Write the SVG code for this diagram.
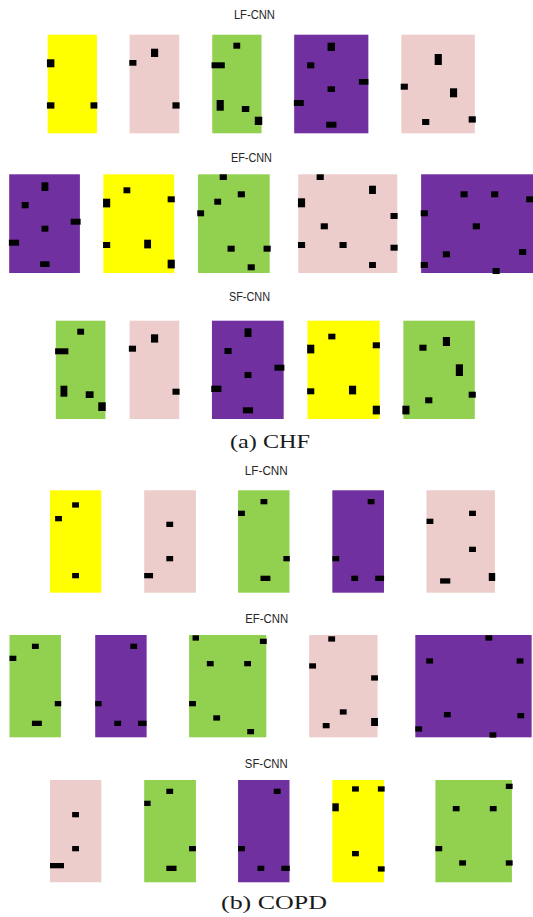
<svg xmlns="http://www.w3.org/2000/svg" width="533" height="917" viewBox="0 0 533 917">
<style>
.y{fill:#FFFF00}.p{fill:#EDCDCB}.g{fill:#92D050}.v{fill:#7030A0}
.d rect{fill:#000}
.t{font-family:"Liberation Sans",Arial,sans-serif;font-size:12px;fill:#262626;text-anchor:middle}
.c{font-family:"Liberation Serif","Times New Roman",serif;font-size:18px;fill:#1a1a1a;text-anchor:middle}
</style>
<rect width="533" height="917" fill="#fff"/>
<text class="t" x="254.4" y="19" textLength="41" lengthAdjust="spacingAndGlyphs">LF-CNN</text>
<text class="t" x="251.4" y="161.5" textLength="41" lengthAdjust="spacingAndGlyphs">EF-CNN</text>
<text class="t" x="249.5" y="301" textLength="41" lengthAdjust="spacingAndGlyphs">SF-CNN</text>
<text class="c" x="270" y="448" textLength="80" lengthAdjust="spacingAndGlyphs">(a) CHF</text>
<text class="t" x="266.3" y="475" textLength="43" lengthAdjust="spacingAndGlyphs">LF-CNN</text>
<text class="t" x="266.7" y="623.3" textLength="43" lengthAdjust="spacingAndGlyphs">EF-CNN</text>
<text class="t" x="266.3" y="767.7" textLength="43" lengthAdjust="spacingAndGlyphs">SF-CNN</text>
<text class="c" x="274" y="909" textLength="106" lengthAdjust="spacingAndGlyphs">(b) COPD</text>
<g id="panels" transform="scale(1.0204 1)">
<!-- CHF LF-CNN -->
<g id="chf-lf-1"><rect class="y" x="46.7" y="34.7" width="48.3" height="98.6"/><g class="d"><rect x="46" y="59.3" width="7.3" height="8"/><rect x="46" y="102.3" width="7.3" height="6.3"/><rect x="88.7" y="102.3" width="6.7" height="6.3"/></g></g>
<g id="chf-lf-2"><rect class="p" x="127" y="34.7" width="48.7" height="98.6"/><g class="d"><rect x="126.7" y="60" width="7" height="5.7"/><rect x="148" y="48.7" width="7" height="8.3"/><rect x="169" y="102.3" width="7" height="6.3"/></g></g>
<g id="chf-lf-3"><rect class="g" x="208" y="34.7" width="48.3" height="98.6"/><g class="d"><rect x="228.7" y="42.7" width="6.7" height="6"/><rect x="207.3" y="62.3" width="13" height="6"/><rect x="212.3" y="100" width="7" height="10.7"/><rect x="237" y="106" width="7.3" height="6"/><rect x="249.7" y="116.7" width="7.3" height="8.3"/></g></g>
<g id="chf-lf-4"><rect class="v" x="288.3" y="34.7" width="72.7" height="98.6"/><g class="d"><rect x="321" y="42.7" width="7.3" height="8.3"/><rect x="301" y="62.3" width="7" height="6"/><rect x="351.7" y="79" width="9.3" height="5.7"/><rect x="321" y="86.3" width="7.3" height="5.7"/><rect x="288" y="100" width="9.7" height="6"/><rect x="319.7" y="121.7" width="10" height="6"/></g></g>
<g id="chf-lf-5"><rect class="p" x="393.3" y="34.7" width="72" height="98.6"/><g class="d"><rect x="426" y="54" width="7" height="11"/><rect x="392.7" y="83.7" width="7" height="6"/><rect x="441" y="88.3" width="7" height="9"/><rect x="413.7" y="119" width="7" height="6"/><rect x="459.3" y="116.3" width="7" height="6.3"/></g></g>
<!-- CHF EF-CNN -->
<g id="chf-ef-1"><rect class="v" x="9" y="174.3" width="69.3" height="98.7"/><g class="d"><rect x="40.7" y="182.3" width="6.7" height="8.7"/><rect x="21.3" y="202" width="6.7" height="6.3"/><rect x="69.3" y="218.7" width="9.7" height="6"/><rect x="40.7" y="225.7" width="6.7" height="6"/><rect x="8.7" y="239.7" width="10" height="6"/><rect x="39.3" y="261.3" width="9.3" height="5.7"/></g></g>
<g id="chf-ef-2"><rect class="y" x="101.3" y="174.3" width="69.4" height="98.7"/><g class="d"><rect x="121" y="187.3" width="6.7" height="6"/><rect x="101" y="198.7" width="7" height="8.7"/><rect x="164.3" y="196.3" width="7" height="6"/><rect x="101" y="242" width="7" height="6"/><rect x="141.3" y="239.7" width="6.7" height="8.7"/><rect x="164.3" y="259.7" width="7" height="8.7"/></g></g>
<g id="chf-ef-3"><rect class="g" x="194" y="174.3" width="70.3" height="98.7"/><g class="d"><rect x="215.3" y="174.3" width="7" height="5.7"/><rect x="233" y="191.3" width="7" height="6"/><rect x="210" y="198.7" width="6.7" height="6"/><rect x="193.3" y="210.3" width="6.7" height="6"/><rect x="223" y="245.7" width="7" height="6"/><rect x="258.3" y="245.7" width="7" height="6"/><rect x="242.7" y="264.3" width="7" height="6"/></g></g>
<g id="chf-ef-4"><rect class="p" x="292.3" y="174.3" width="97" height="98.7"/><g class="d"><rect x="310.3" y="174.3" width="7" height="5.7"/><rect x="361.7" y="185.7" width="6.7" height="8.3"/><rect x="292" y="198.3" width="7" height="9"/><rect x="382.7" y="213" width="7" height="6"/><rect x="314.3" y="223.3" width="7" height="6"/><rect x="292" y="242" width="7" height="6"/><rect x="332.7" y="242" width="7" height="6"/><rect x="382.7" y="244.7" width="7" height="6"/><rect x="361.7" y="262" width="6.7" height="6"/></g></g>
<g id="chf-ef-5"><rect class="v" x="412.7" y="174.3" width="110.3" height="98.7"/><g class="d"><rect x="451.3" y="191.3" width="7" height="6"/><rect x="481.3" y="191.3" width="7" height="6"/><rect x="515.7" y="196.3" width="7" height="6"/><rect x="412.3" y="210.3" width="7" height="6"/><rect x="463.3" y="223.3" width="7" height="6"/><rect x="434" y="251.3" width="7" height="6"/><rect x="508.7" y="249" width="7" height="6"/><rect x="412.3" y="262" width="7" height="6"/><rect x="482.7" y="268" width="7" height="6"/></g></g>
<!-- CHF SF-CNN -->
<g id="chf-sf-1"><rect class="g" x="54.7" y="320.7" width="48.6" height="98.3"/><g class="d"><rect x="75.7" y="328.7" width="6.7" height="6"/><rect x="54" y="348.3" width="13" height="6"/><rect x="59.3" y="385.7" width="6.7" height="11"/><rect x="84" y="391.3" width="7.7" height="6.7"/><rect x="96.3" y="402.3" width="7.3" height="8.7"/></g></g>
<g id="chf-sf-2"><rect class="p" x="127" y="320.7" width="48.7" height="98.3"/><g class="d"><rect x="126.3" y="345.7" width="7" height="6"/><rect x="148" y="334.3" width="7" height="8.3"/><rect x="169" y="388.7" width="7" height="6"/></g></g>
<g id="chf-sf-3"><rect class="v" x="207.7" y="320.7" width="70.3" height="98.3"/><g class="d"><rect x="239.7" y="328.3" width="6.7" height="8.7"/><rect x="220" y="348" width="7" height="6"/><rect x="269" y="364.7" width="9.7" height="6"/><rect x="239.7" y="372" width="6.7" height="6"/><rect x="207" y="385.7" width="10" height="6.3"/><rect x="238" y="407.3" width="10" height="6"/></g></g>
<g id="chf-sf-4"><rect class="y" x="301.3" y="320.7" width="70.7" height="98.3"/><g class="d"><rect x="321.7" y="333.7" width="7" height="5.7"/><rect x="301" y="344.7" width="7" height="8.7"/><rect x="365.3" y="342.3" width="7" height="6"/><rect x="301" y="388.3" width="7" height="6"/><rect x="342" y="385.7" width="7" height="8.7"/><rect x="365.3" y="405.7" width="7" height="8.7"/></g></g>
<g id="chf-sf-5"><rect class="g" x="395.3" y="320.7" width="70" height="98.3"/><g class="d"><rect x="411" y="344.7" width="7" height="6"/><rect x="434" y="337" width="7" height="9"/><rect x="446.7" y="364.3" width="7" height="11.7"/><rect x="459.3" y="391.7" width="7" height="6"/><rect x="416.7" y="397.3" width="7" height="6"/><rect x="394.3" y="405.7" width="7" height="8.7"/></g></g>
<!-- COPD LF-CNN -->
<g id="copd-lf-1"><rect class="y" x="49" y="490.3" width="50.3" height="102.4"/><g class="d"><rect x="70.7" y="502.3" width="6.7" height="5.3"/><rect x="54" y="516" width="6.7" height="5.3"/><rect x="70.7" y="573" width="6.7" height="5.3"/></g></g>
<g id="copd-lf-2"><rect class="p" x="141.3" y="490.3" width="50.7" height="102.4"/><g class="d"><rect x="163" y="521.7" width="6.7" height="5.3"/><rect x="163" y="556" width="6.7" height="5.3"/><rect x="141.3" y="573" width="8.7" height="5.3"/></g></g>
<g id="copd-lf-3"><rect class="g" x="233.3" y="490.3" width="50.4" height="102.4"/><g class="d"><rect x="255.3" y="499" width="6.7" height="5.3"/><rect x="233.3" y="510.7" width="6.7" height="5.3"/><rect x="277.7" y="556" width="6.3" height="5.3"/><rect x="255.3" y="575.7" width="9.7" height="5.3"/></g></g>
<g id="copd-lf-4"><rect class="v" x="325.7" y="490.3" width="50.6" height="102.4"/><g class="d"><rect x="360.3" y="499" width="6.7" height="5.3"/><rect x="325.7" y="556" width="6.7" height="5.3"/><rect x="344.3" y="575.7" width="6.7" height="5.3"/><rect x="367.7" y="575.7" width="8.7" height="5.3"/></g></g>
<g id="copd-lf-5"><rect class="p" x="418" y="490.3" width="67" height="102.4"/><g class="d"><rect x="459.7" y="510.7" width="6.7" height="5.3"/><rect x="418" y="518.7" width="6.7" height="5.3"/><rect x="459.7" y="546.7" width="6.7" height="5.3"/><rect x="431.3" y="578.3" width="10" height="5.3"/><rect x="479" y="573" width="6.3" height="8"/></g></g>
<!-- COPD EF-CNN -->
<g id="copd-ef-1"><rect class="g" x="9.3" y="635" width="50.4" height="102.3"/><g class="d"><rect x="31.3" y="643.7" width="6.7" height="5.3"/><rect x="9.3" y="655.7" width="6.7" height="5.3"/><rect x="53.7" y="701" width="6.3" height="5.3"/><rect x="31.3" y="720.7" width="9.7" height="5.3"/></g></g>
<g id="copd-ef-2"><rect class="v" x="93.3" y="635" width="50.4" height="102.3"/><g class="d"><rect x="127.7" y="643.7" width="6.7" height="5.3"/><rect x="93.3" y="701" width="6.3" height="5.3"/><rect x="112" y="720.7" width="6.7" height="5.3"/><rect x="135.3" y="720.7" width="8.3" height="5.3"/></g></g>
<g id="copd-ef-3"><rect class="g" x="185.3" y="635" width="75.7" height="102.3"/><g class="d"><rect x="188.7" y="635.3" width="6.3" height="5.3"/><rect x="254.7" y="638.7" width="6.7" height="5.3"/><rect x="202.7" y="661" width="6.7" height="5.3"/><rect x="239.3" y="661" width="6.7" height="5.3"/><rect x="185.3" y="701" width="6.7" height="5.3"/><rect x="209" y="715.3" width="6.7" height="5.3"/><rect x="242.3" y="729" width="6.7" height="5.3"/></g></g>
<g id="copd-ef-4"><rect class="p" x="303" y="635" width="67" height="102.3"/><g class="d"><rect x="321.7" y="636.3" width="6.7" height="5.3"/><rect x="303" y="663.3" width="6.7" height="5.3"/><rect x="363.7" y="675.3" width="6.7" height="5.3"/><rect x="333" y="709.3" width="6.7" height="5.3"/><rect x="316.3" y="723" width="6.7" height="5.3"/><rect x="363.7" y="718" width="6.7" height="8"/></g></g>
<g id="copd-ef-5"><rect class="v" x="407" y="635" width="114" height="102.3"/><g class="d"><rect x="475.7" y="635.3" width="6.7" height="5.3"/><rect x="417.7" y="658.3" width="6.7" height="5.3"/><rect x="506.3" y="658.3" width="6.7" height="5.3"/><rect x="435" y="712" width="6.7" height="5.3"/><rect x="507" y="713" width="6.7" height="5.3"/><rect x="407" y="726.3" width="6.7" height="5.3"/><rect x="479.7" y="732.3" width="6.7" height="5.3"/></g></g>
<!-- COPD SF-CNN -->
<g id="copd-sf-1"><rect class="p" x="49" y="780" width="50.3" height="102.3"/><g class="d"><rect x="70.7" y="812" width="6.7" height="5.3"/><rect x="70.7" y="846" width="6.7" height="5.3"/><rect x="49" y="863" width="13.7" height="5.3"/></g></g>
<g id="copd-sf-2"><rect class="g" x="141.3" y="780" width="50.7" height="102.3"/><g class="d"><rect x="163" y="788.7" width="6.7" height="5.3"/><rect x="141.3" y="800.7" width="6.3" height="5.3"/><rect x="185.3" y="846" width="6.7" height="5.3"/><rect x="163" y="865.7" width="10" height="5.3"/></g></g>
<g id="copd-sf-3"><rect class="v" x="233.3" y="780" width="50.4" height="102.3"/><g class="d"><rect x="268.3" y="788.7" width="6.7" height="5.3"/><rect x="233.3" y="846" width="6.7" height="5.3"/><rect x="252.3" y="865.7" width="6.7" height="5.3"/><rect x="275.7" y="865.7" width="8.3" height="5.3"/></g></g>
<g id="copd-sf-4"><rect class="y" x="325.7" y="780" width="50.6" height="102.3"/><g class="d"><rect x="345" y="786.3" width="6.7" height="5.3"/><rect x="370.3" y="786.3" width="6.7" height="5.3"/><rect x="325.7" y="803.3" width="6.3" height="8"/><rect x="345" y="851" width="6.7" height="5.3"/><rect x="370.3" y="866.3" width="6.7" height="5.3"/></g></g>
<g id="copd-sf-5"><rect class="g" x="426.7" y="780" width="75" height="102.3"/><g class="d"><rect x="495.7" y="783.7" width="6.7" height="5.3"/><rect x="443.7" y="806" width="6.7" height="5.3"/><rect x="480" y="806" width="6.7" height="5.3"/><rect x="426.7" y="846" width="6.7" height="5.3"/><rect x="450" y="860.3" width="6.7" height="5.3"/><rect x="495.7" y="860.3" width="6.7" height="5.3"/></g></g>
</g>
</svg>
